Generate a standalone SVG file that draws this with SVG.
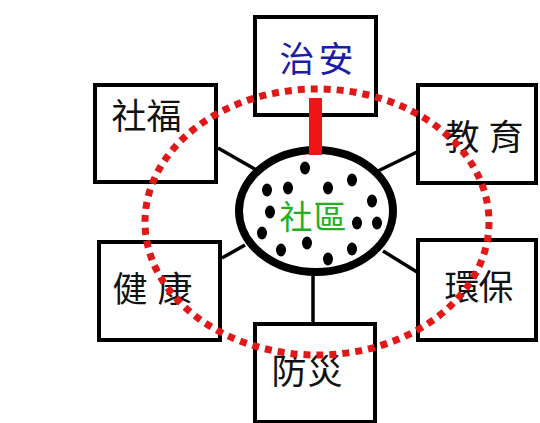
<svg xmlns="http://www.w3.org/2000/svg" width="540" height="423" viewBox="0 0 540 423">
<style>
.box{fill:#fff;stroke:#000;stroke-width:4}
.lbl{font-family:"Noto Sans CJK TC","Noto Sans CJK SC",sans-serif;font-size:35px;fill:#111;text-anchor:middle}
.conn{stroke:#000;stroke-width:3.5;fill:none}
.dot{fill:#000}
</style>
<rect width="540" height="423" fill="#fff"/>
<g id="connectors">
<line class="conn" x1="218" y1="148" x2="258" y2="171"/>
<line class="conn" x1="417" y1="152" x2="378" y2="171"/>
<line class="conn" x1="222" y1="258" x2="245" y2="245"/>
<line class="conn" x1="417" y1="272" x2="383" y2="251"/>
<line class="conn" x1="313" y1="275" x2="313" y2="324"/>
</g>
<g id="node-zhian">
<rect class="box" x="255" y="17" width="121" height="98"/>
<text class="lbl" x="297 336" y="72" style="fill:#1c1ca8">治安</text>
</g>
<g id="node-shefu">
<rect class="box" x="95" y="85" width="121" height="97"/>
<text class="lbl" x="129 164" y="129">社福</text>
</g>
<g id="node-jiaoyu">
<rect class="box" x="418" y="85" width="118" height="98"/>
<text class="lbl" x="462 506" y="150">教育</text>
</g>
<g id="node-jiankang">
<rect class="box" x="99" y="242" width="121" height="98"/>
<text class="lbl" x="130 175" y="302">健康</text>
</g>
<g id="node-huanbao">
<rect class="box" x="418" y="240" width="118" height="100"/>
<text class="lbl" x="462 496" y="300">環保</text>
</g>
<g id="node-fangzai">
<rect class="box" x="255" y="324" width="120" height="98"/>
<text class="lbl" x="289 325" y="384">防災</text>
</g>
<g id="node-shequ">
<ellipse cx="316" cy="211" rx="77" ry="61" fill="#fff" stroke="#000" stroke-width="8"/>
<g class="dot">
<ellipse cx="305" cy="168" rx="5" ry="6.5"/>
<ellipse cx="288" cy="188" rx="5" ry="6.5"/>
<ellipse cx="267" cy="190" rx="5" ry="6.5"/>
<ellipse cx="328" cy="188" rx="5" ry="6.5"/>
<ellipse cx="352" cy="180" rx="5" ry="6.5"/>
<ellipse cx="372" cy="201" rx="5" ry="6.5"/>
<ellipse cx="270" cy="212" rx="5" ry="6.5"/>
<ellipse cx="357" cy="223" rx="5" ry="6.5"/>
<ellipse cx="377" cy="223" rx="5" ry="6.5"/>
<ellipse cx="262" cy="233" rx="5" ry="6.5"/>
<ellipse cx="307" cy="243" rx="5" ry="6.5"/>
<ellipse cx="281" cy="250" rx="5" ry="6.5"/>
<ellipse cx="352" cy="249" rx="5" ry="6.5"/>
<ellipse cx="328" cy="259" rx="5" ry="6.5"/>
</g>
<text class="lbl" x="296 330" y="229" style="font-size:33px;fill:#22b022">社區</text>
</g>
<g id="link">
<rect x="309" y="98" width="13" height="57" fill="#f01414"/>
<ellipse cx="317" cy="222" rx="172" ry="133" fill="none" stroke="#e01818" stroke-width="7" stroke-dasharray="7 6"/>
</g>
</svg>
